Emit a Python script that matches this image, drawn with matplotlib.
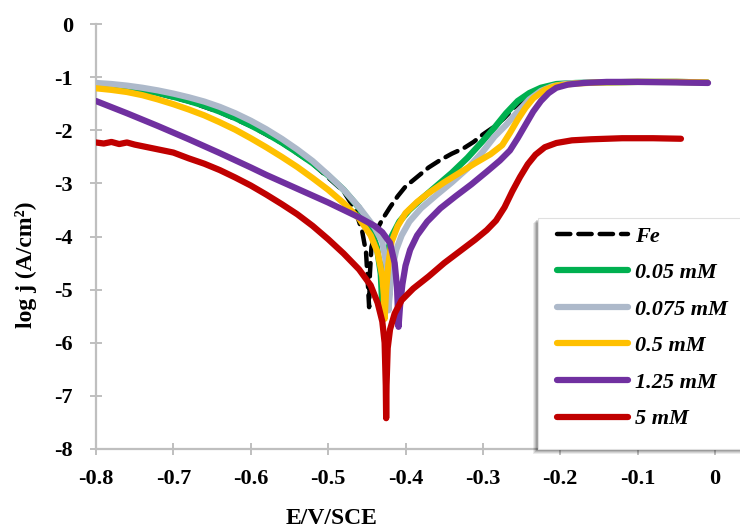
import matplotlib
matplotlib.use("Agg")
import matplotlib.pyplot as plt
from matplotlib.patches import Rectangle

plt.rcParams["font.family"] = ["Liberation Serif", "DejaVu Serif"]
plt.rcParams["font.weight"] = "bold"

# ---- data ----
fe_E = [-0.80, -0.76, -0.72, -0.68, -0.64, -0.60, -0.56, -0.52, -0.48, -0.465,
        -0.456, -0.451, -0.449, -0.447, -0.446, -0.444, -0.438, -0.43, -0.42, -0.41,
        -0.40, -0.385, -0.37, -0.355, -0.34, -0.325, -0.312, -0.30, -0.286, -0.273,
        -0.26, -0.245, -0.23, -0.215, -0.195, -0.15, -0.10, -0.05, -0.01]
fe_L = [-1.14, -1.20, -1.31, -1.46, -1.66, -1.92, -2.24, -2.63, -3.15, -3.50,
        -3.90, -4.30, -4.80, -5.33, -4.70, -4.20, -3.90, -3.68, -3.45, -3.24,
        -3.06, -2.88, -2.70, -2.56, -2.44, -2.34, -2.22, -2.08, -1.94, -1.78,
        -1.58, -1.40, -1.26, -1.18, -1.13, -1.10, -1.09, -1.09, -1.10]

g_E = [-0.80, -0.78, -0.76, -0.74, -0.72, -0.70, -0.68, -0.66, -0.64, -0.62,
       -0.60, -0.58, -0.56, -0.54, -0.52, -0.50, -0.48, -0.46, -0.445, -0.437,
       -0.432, -0.430, -0.428, -0.425, -0.418, -0.408, -0.395, -0.38, -0.36, -0.34,
       -0.32, -0.30, -0.285, -0.27, -0.255, -0.24, -0.225, -0.205, -0.18, -0.15,
       -0.10, -0.05, -0.01]
g_L = [-1.13, -1.15, -1.19, -1.24, -1.30, -1.37, -1.45, -1.54, -1.65, -1.77,
       -1.91, -2.06, -2.23, -2.42, -2.62, -2.85, -3.12, -3.46, -3.85, -4.20,
       -4.70, -5.30, -4.80, -4.40, -4.00, -3.72, -3.50, -3.30, -3.05, -2.80,
       -2.52, -2.20, -1.95, -1.68, -1.45, -1.30, -1.20, -1.13, -1.11, -1.10,
       -1.09, -1.09, -1.10]

gr_E = [-0.80, -0.78, -0.76, -0.74, -0.72, -0.70, -0.68, -0.66, -0.64, -0.62,
        -0.60, -0.58, -0.56, -0.54, -0.52, -0.50, -0.48, -0.46, -0.44, -0.43,
        -0.425, -0.421, -0.422, -0.420, -0.417, -0.412, -0.405, -0.395, -0.38, -0.36,
        -0.34, -0.32, -0.30, -0.285, -0.27, -0.255, -0.24, -0.225, -0.21, -0.19,
        -0.15, -0.10, -0.05, -0.01]
gr_L = [-1.11, -1.13, -1.16, -1.20, -1.25, -1.31, -1.38, -1.46, -1.56, -1.68,
        -1.82, -1.98, -2.16, -2.36, -2.58, -2.84, -3.12, -3.45, -3.83, -4.10,
        -4.50, -5.00, -5.39, -5.00, -4.60, -4.25, -3.98, -3.72, -3.47, -3.22,
        -2.98, -2.72, -2.40, -2.12, -1.90, -1.65, -1.42, -1.26, -1.17, -1.12,
        -1.10, -1.09, -1.09, -1.10]

y_E = [-0.80, -0.78, -0.76, -0.74, -0.72, -0.70, -0.68, -0.66, -0.64, -0.62,
       -0.60, -0.58, -0.56, -0.54, -0.52, -0.50, -0.48, -0.46, -0.445, -0.436,
       -0.430, -0.428, -0.427, -0.425, -0.422, -0.418, -0.41, -0.40, -0.385, -0.37,
       -0.35, -0.33, -0.31, -0.29, -0.275, -0.265, -0.255, -0.245, -0.235, -0.22,
       -0.205, -0.18, -0.15, -0.10, -0.05, -0.01]
y_L = [-1.21, -1.24, -1.28, -1.34, -1.42, -1.51, -1.61, -1.72, -1.85, -1.99,
       -2.15, -2.32, -2.50, -2.69, -2.90, -3.12, -3.37, -3.66, -3.98, -4.30,
       -4.75, -5.10, -5.55, -5.00, -4.50, -4.10, -3.80, -3.56, -3.35, -3.18,
       -2.98, -2.80, -2.62, -2.45, -2.28, -2.05, -1.80, -1.58, -1.40, -1.24,
       -1.16, -1.12, -1.10, -1.09, -1.09, -1.10]

p_E = [-0.80, -0.76, -0.72, -0.68, -0.64, -0.60, -0.58, -0.56, -0.54, -0.52,
       -0.50, -0.48, -0.46, -0.44, -0.43, -0.42, -0.414, -0.411, -0.409, -0.407,
       -0.404, -0.400, -0.394, -0.385, -0.372, -0.355, -0.335, -0.315, -0.295, -0.278,
       -0.265, -0.255, -0.245, -0.235, -0.225, -0.215, -0.205, -0.19, -0.17, -0.14,
       -0.10, -0.05, -0.009]
p_L = [-1.45, -1.68, -1.92, -2.17, -2.43, -2.70, -2.84, -2.97, -3.10, -3.23,
       -3.36, -3.50, -3.64, -3.80, -3.92, -4.12, -4.50, -4.95, -5.70, -5.30,
       -4.90, -4.55, -4.25, -3.98, -3.72, -3.47, -3.24, -3.02, -2.78, -2.57,
       -2.38, -2.15, -1.90, -1.65, -1.45, -1.30, -1.20, -1.14, -1.11, -1.09,
       -1.09, -1.10, -1.11]

r_E = [-0.80, -0.79, -0.78, -0.77, -0.76, -0.75, -0.74, -0.72, -0.70, -0.68,
       -0.66, -0.64, -0.62, -0.60, -0.58, -0.56, -0.54, -0.52, -0.50, -0.48,
       -0.46, -0.445, -0.436, -0.430, -0.427, -0.4255, -0.425, -0.4245, -0.423, -0.420,
       -0.414, -0.405, -0.39, -0.37, -0.35, -0.33, -0.31, -0.295, -0.283, -0.272,
       -0.262, -0.252, -0.242, -0.232, -0.22, -0.205, -0.185, -0.16, -0.12, -0.08,
       -0.044]
r_L = [-2.23, -2.25, -2.22, -2.26, -2.23, -2.27, -2.30, -2.36, -2.42, -2.53,
       -2.63, -2.75, -2.89, -3.04, -3.21, -3.39, -3.58, -3.80, -4.05, -4.32,
       -4.62, -4.92, -5.25, -5.60, -6.00, -6.80, -7.42, -6.80, -6.10, -5.75,
       -5.45, -5.20, -4.98, -4.75, -4.50, -4.28, -4.06, -3.88, -3.70, -3.45,
       -3.15, -2.88, -2.64, -2.46, -2.32, -2.24, -2.19, -2.17, -2.15, -2.15,
       -2.16]

series = [
    ("Fe", fe_E, fe_L, "black"),
    ("0.05 mM", g_E, g_L, "#00b050"),
    ("0.075 mM", gr_E, gr_L, "#adb9ca"),
    ("0.5 mM", y_E, y_L, "#ffc000"),
    ("1.25 mM", p_E, p_L, "#7030a0"),
    ("5 mM", r_E, r_L, "#c00000"),
]

W, H = 740, 529
fig = plt.figure(figsize=(W / 100, H / 100), dpi=100)
ax = fig.add_axes([96 / W, 1 - 449 / H, 619 / W, 425 / H])

handles = []
for i, (lab, xs, ys, col) in enumerate(series):
    if lab == "Fe":
        ln, = ax.plot(xs, ys, color=col, lw=3.2, ls=(0, (3, 1.8)),
                      dash_capstyle="round", solid_capstyle="round", zorder=2 + i, label=lab)
    else:
        ln, = ax.plot(xs, ys, color=col, lw=4.5, solid_capstyle="round",
                      solid_joinstyle="round", zorder=2 + i, label=lab)
    handles.append(ln)

ax.set_xlim(-0.8, 0)
ax.set_ylim(-8, 0)
ax.set_xticks([-0.8, -0.7, -0.6, -0.5, -0.4, -0.3, -0.2, -0.1, 0])
ax.set_xticklabels(["-0.8", "-0.7", "-0.6", "-0.5", "-0.4", "-0.3", "-0.2", "-0.1", "0"])
ax.set_yticks(range(-8, 1))
ax.set_yticklabels([str(v) for v in range(-8, 1)])

for s in ["top", "right"]:
    ax.spines[s].set_visible(False)
for s in ["left", "bottom"]:
    ax.spines[s].set_color("#bfbfbf")
    ax.spines[s].set_linewidth(1.6)

ax.tick_params(axis="both", direction="inout", length=9, width=1.4, color="#bfbfbf",
               labelsize=16)
ax.tick_params(axis="x", pad=10)
ax.tick_params(axis="y", pad=12)
for t in ax.get_xticklabels() + ax.get_yticklabels():
    t.set_fontweight("bold")

ax.set_xlabel("E/V/SCE", fontsize=17, fontweight="bold", va="center")
ax.xaxis.set_label_coords((332 - 96) / 619, (449 - 519) / 425)
ax.set_ylabel("log j (A/cm²)", fontsize=17, fontweight="bold", va="center")
ax.yaxis.set_label_coords((26 - 96) / 619, (449 - 265) / 425)

# legend box with soft shadow
bx0, by0, bx1, by1 = 538, 218, 750, 449
for k, a in [(5, 0.08), (4, 0.10), (3, 0.12), (2, 0.15)]:
    fig.patches.append(Rectangle(((bx0 - k) / W, 1 - (by1 + k) / H), (bx1 - bx0) / W,
                                 (by1 - by0) / H, transform=fig.transFigure,
                                 facecolor="black", edgecolor="none", alpha=a, zorder=3))
fig.patches.append(Rectangle((bx0 / W, 1 - by1 / H), (bx1 - bx0) / W, (by1 - by0) / H,
                             transform=fig.transFigure, facecolor="white",
                             edgecolor="#e0e0e0", lw=0.8, zorder=4))

fig.legend(handles=handles, loc="upper left", bbox_to_anchor=(557 / W, 1 - 226 / H),
           frameon=False, borderpad=0, borderaxespad=0, handlelength=3.2,
           handletextpad=0.3, labelspacing=0.72,
           prop={"family": "Liberation Serif", "weight": "bold", "style": "italic", "size": 16})

fig.savefig("out.png", dpi=100)
